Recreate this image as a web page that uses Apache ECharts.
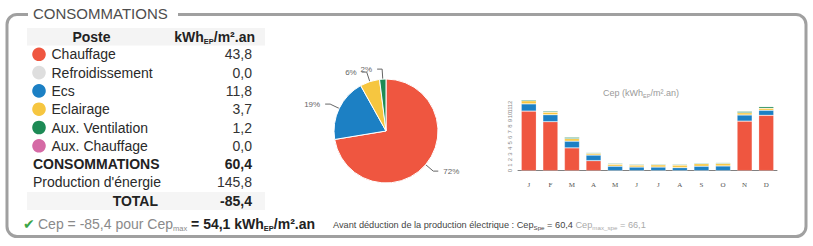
<!DOCTYPE html>
<html><head><meta charset="utf-8">
<script src="https://cdn.jsdelivr.net/npm/echarts@6/dist/echarts.min.js"></script>
<style>html,body{margin:0;padding:0;background:#fff}#c{width:813px;height:246px}</style>
</head><body><div id="c"></div>
<script>
// ---- data ----
var postes = ['Chauffage', 'Refroidissement', 'Ecs', 'Eclairage', 'Aux. Ventilation', 'Aux. Chauffage'];
var valeurs = [43.8, 0.0, 11.8, 3.7, 1.2, 0.0];
var consommations = 60.4;
var production = 145.8;
var total = -85.4;
var cep = -85.4;
var cepMax = 54.1;
var cepSpe = 60.4;
var cepMaxSpe = 66.1;
var pieLabels = ['72%', '', '19%', '6%', '2%', ''];

var months = ['J', 'F', 'M', 'A', 'M', 'J', 'J', 'A', 'S', 'O', 'N', 'D'];
var chauffageMois = [10.7, 8.8, 4.1, 1.8, 0, 0, 0, 0, 0, 0, 8.9, 9.95];
var ecsMois = [1.3, 1.25, 1.2, 1.0, 0.8, 0.65, 0.65, 0.55, 0.8, 0.85, 1.1, 0.9];
var eclairageMois = [0.55, 0.45, 0.45, 0.3, 0.35, 0.35, 0.4, 0.45, 0.45, 0.45, 0.4, 0.35];
var auxVentMois = [0.2, 0.2, 0.25, 0.15, 0.15, 0.15, 0.15, 0.15, 0.15, 0.15, 0.25, 0.3];
var yTicks = [0, 13, 1]; // min, max, interval

// ---- styles ----
var couleurs = ['#ef5640', '#dedede', '#1c80c4', '#f6c640', '#1d8a55', '#d56aa5'];
var FF = 'Liberation Sans, Arial, sans-serif';

function fmt(v) { return v.toFixed(1).replace('.', ','); }

var chart = echarts.init(document.getElementById('c'), null, { renderer: 'svg' });

var g = [];
// frame
g.push({ type: 'rect', z: 0, shape: { x: 7, y: 14.5, width: 799, height: 222, r: 10 },
  style: { fill: 'none', stroke: '#a0a0a0', lineWidth: 3 } });
g.push({ type: 'rect', z: 1, shape: { x: 28, y: 4, width: 150, height: 20 }, style: { fill: '#fff' } });
g.push({ type: 'text', z: 2, x: 33, y: 13, style: { text: 'CONSOMMATIONS', font: '15px ' + FF, fill: '#4d4d4d', textVerticalAlign: 'middle' } });
// header bg + total bg
g.push({ type: 'rect', z: 1, shape: { x: 27, y: 28, width: 238, height: 17.5 }, style: { fill: '#f4f4f4' } });
g.push({ type: 'rect', z: 1, shape: { x: 27, y: 192, width: 238, height: 18 }, style: { fill: '#f5f5f5' } });
g.push({ type: 'text', z: 2, x: 91.5, y: 37, style: { text: 'Poste', font: 'bold 14px ' + FF, fill: '#222', textAlign: 'center', textVerticalAlign: 'middle' } });
g.push({ type: 'text', z: 2, x: 255, y: 37, style: {
  text: '{b|kWh}{s|EP}{b|/m².an}', textAlign: 'right', textVerticalAlign: 'middle',
  rich: { b: { fontSize: 14, fontWeight: 'bold', fontFamily: FF, fill: '#222', lineHeight: 16 },
          s: { fontSize: 7.5, fontWeight: 'bold', fontFamily: FF, fill: '#222', lineHeight: 9, verticalAlign: 'bottom' } } } });

var y0 = 54.3, step = 18.3;
postes.forEach(function (p, i) {
  var y = y0 + i * step;
  g.push({ type: 'circle', z: 2, shape: { cx: 39, cy: y, r: 6.8 }, style: { fill: couleurs[i] } });
  g.push({ type: 'text', z: 2, x: 51.5, y: y, style: { text: p, font: '14px ' + FF, fill: '#2a2a2a', textVerticalAlign: 'middle' } });
  g.push({ type: 'text', z: 2, x: 252, y: y, style: { text: fmt(valeurs[i]), font: '14px ' + FF, fill: '#333', textAlign: 'right', textVerticalAlign: 'middle' } });
});
var yC = y0 + 6 * step, yP = y0 + 7 * step, yT = y0 + 8 * step;
g.push({ type: 'text', z: 2, x: 33, y: yC, style: { text: 'CONSOMMATIONS', font: 'bold 14px ' + FF, fill: '#222', textVerticalAlign: 'middle' } });
g.push({ type: 'text', z: 2, x: 252, y: yC, style: { text: fmt(consommations), font: 'bold 14px ' + FF, fill: '#222', textAlign: 'right', textVerticalAlign: 'middle' } });
g.push({ type: 'text', z: 2, x: 33, y: yP, style: { text: "Production d'énergie", font: '14px ' + FF, fill: '#2a2a2a', textVerticalAlign: 'middle' } });
g.push({ type: 'text', z: 2, x: 252, y: yP, style: { text: fmt(production), font: '14px ' + FF, fill: '#333', textAlign: 'right', textVerticalAlign: 'middle' } });
g.push({ type: 'text', z: 2, x: 158, y: yT, style: { text: 'TOTAL', font: 'bold 14px ' + FF, fill: '#222', textAlign: 'right', textVerticalAlign: 'middle' } });
g.push({ type: 'text', z: 2, x: 252, y: yT, style: { text: fmt(total), font: 'bold 14px ' + FF, fill: '#222', textAlign: 'right', textVerticalAlign: 'middle' } });

// bottom line
var yB = 224;
g.push({ type: 'text', z: 2, x: 23, y: yB, style: { text: '✔', font: '14px DejaVu Sans', fill: '#3aa548', textVerticalAlign: 'middle' } });
g.push({ type: 'text', z: 2, x: 38, y: yB, style: {
  text: '{g|Cep = ' + fmt(cep) + ' pour Cep}{gs|max}{b| = ' + fmt(cepMax) + ' kWh}{bs|EP}{b|/m².an}',
  textVerticalAlign: 'middle',
  rich: { g: { fontSize: 14, fontFamily: FF, fill: '#8a8a8a', lineHeight: 16 },
          gs: { fontSize: 7.5, fontFamily: FF, fill: '#8a8a8a', lineHeight: 9, verticalAlign: 'bottom' },
          b: { fontSize: 14, fontWeight: 'bold', fontFamily: FF, fill: '#222', lineHeight: 16 },
          bs: { fontSize: 7.5, fontWeight: 'bold', fontFamily: FF, fill: '#222', lineHeight: 9, verticalAlign: 'bottom' } } } });
g.push({ type: 'text', z: 2, x: 333, y: yB + 1, style: {
  text: '{n|Avant déduction de la production électrique : Cep}{ns|Spe}{n| = ' + fmt(cepSpe) + ' }{l|Cep}{ls|max_spe}{l| = ' + fmt(cepMaxSpe) + '}',
  textVerticalAlign: 'middle',
  rich: { n: { fontSize: 9.2, fontFamily: FF, fill: '#444', lineHeight: 11 },
          ns: { fontSize: 6.2, fontFamily: FF, fill: '#444', lineHeight: 8, verticalAlign: 'bottom' },
          l: { fontSize: 9.2, fontFamily: FF, fill: '#aaa', lineHeight: 11 },
          ls: { fontSize: 6.2, fontFamily: FF, fill: '#aaa', lineHeight: 8, verticalAlign: 'bottom' } } } });

// bar chart title
g.push({ type: 'text', z: 2, x: 641, y: 93, style: {
  text: '{a|Cep (kWh}{s|EP}{a|/m².an)}', textAlign: 'center', textVerticalAlign: 'middle',
  rich: { a: { fontSize: 9, fontFamily: FF, fill: '#9a9a9a', lineHeight: 11 },
          s: { fontSize: 5.5, fontFamily: FF, fill: '#9a9a9a', lineHeight: 7, verticalAlign: 'bottom' } } } });

var pieData = [];
postes.forEach(function (p, i) {
  if (valeurs[i] > 0) pieData.push({ name: p, value: valeurs[i], label: { formatter: pieLabels[i] }, itemStyle: { color: couleurs[i] } });
});

function barSeries(name, data, color) {
  return { name: name, type: 'bar', stack: 'm', data: data, barWidth: '70%',
    itemStyle: { color: color, borderColor: 'rgba(255,255,255,0.35)', borderWidth: 0.6 } };
}

chart.setOption({
  animation: false,
  textStyle: { fontFamily: FF },
  graphic: g,
  grid: { left: 518, right: 36, top: 98.3, bottom: 75.3, containLabel: false },
  xAxis: { type: 'category', data: months,
    axisLine: { lineStyle: { color: '#808080', width: 1 } }, axisTick: { show: false },
    axisLabel: { fontSize: 7, color: '#555', margin: 11, fontFamily: 'Liberation Serif, serif', interval: 0 } },
  yAxis: { type: 'value', min: yTicks[0], max: yTicks[1], interval: yTicks[2],
    splitLine: { show: false }, axisLine: { show: false }, axisTick: { show: false },
    axisLabel: { fontSize: 6, color: '#888', rotate: 90, margin: 5 } },
  series: [
    { type: 'pie', center: [386, 131], radius: 52, startAngle: 90, clockwise: true,
      data: pieData, avoidLabelOverlap: false,
      itemStyle: { borderColor: '#fff', borderWidth: 1 },
      label: { show: true, position: 'outside', fontSize: 8, color: '#666', fontFamily: FF },
      labelLine: { show: true, length: 10, length2: 5, lineStyle: { color: '#666', width: 1 } },
      emphasis: { disabled: true } },
    barSeries(postes[0], chauffageMois, couleurs[0]),
    barSeries(postes[2], ecsMois, couleurs[2]),
    barSeries(postes[3], eclairageMois, couleurs[3]),
    barSeries(postes[4], auxVentMois, couleurs[4])
  ]
});
</script></body></html>
